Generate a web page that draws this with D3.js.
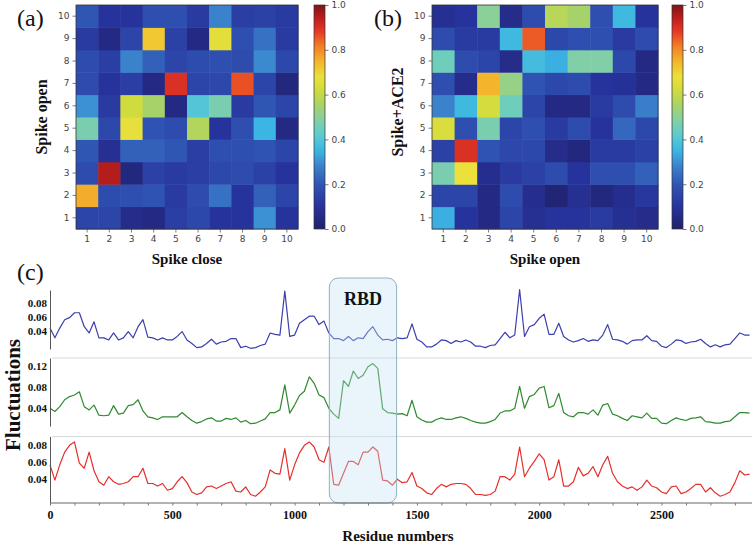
<!DOCTYPE html>
<html><head><meta charset="utf-8">
<script src="https://cdn.jsdelivr.net/npm/d3@7"></script>
<style>body{margin:0;background:#fff}svg{display:block}</style>
</head><body>
<script>
// ---------- DATA ----------
const bins = ["1","2","3","4","5","6","7","8","9","10"];
// heat maps: rows listed for labels 1..10 (bottom to top), columns 1..10
const heatA = [
 [0.15,0.15,0.06,0.05,0.13,0.16,0.10,0.10,0.30,0.10],
 [0.76,0.17,0.18,0.19,0.12,0.17,0.25,0.10,0.22,0.15],
 [0.17,0.95,0.04,0.14,0.12,0.13,0.16,0.17,0.14,0.10],
 [0.20,0.08,0.22,0.22,0.20,0.13,0.18,0.18,0.19,0.15],
 [0.47,0.16,0.67,0.19,0.17,0.57,0.10,0.18,0.35,0.05],
 [0.30,0.12,0.62,0.55,0.05,0.40,0.47,0.12,0.20,0.15],
 [0.17,0.10,0.13,0.05,0.90,0.15,0.16,0.86,0.15,0.04],
 [0.17,0.13,0.28,0.22,0.15,0.17,0.18,0.17,0.29,0.16],
 [0.12,0.05,0.15,0.72,0.14,0.05,0.66,0.18,0.25,0.12],
 [0.20,0.10,0.10,0.18,0.18,0.12,0.28,0.13,0.14,0.12]
];
const heatB = [
 [0.34,0.10,0.05,0.15,0.08,0.10,0.10,0.12,0.08,0.06],
 [0.15,0.15,0.05,0.17,0.07,0.02,0.08,0.04,0.07,0.11],
 [0.47,0.68,0.07,0.12,0.14,0.17,0.10,0.18,0.18,0.22],
 [0.14,0.90,0.19,0.16,0.16,0.06,0.04,0.12,0.12,0.14],
 [0.64,0.18,0.47,0.15,0.18,0.12,0.17,0.10,0.23,0.16],
 [0.28,0.36,0.63,0.45,0.15,0.05,0.05,0.12,0.17,0.27],
 [0.18,0.06,0.75,0.52,0.19,0.16,0.17,0.10,0.09,0.05],
 [0.45,0.17,0.15,0.06,0.37,0.34,0.48,0.48,0.16,0.05],
 [0.17,0.12,0.12,0.36,0.85,0.16,0.18,0.18,0.12,0.17],
 [0.08,0.10,0.50,0.06,0.17,0.58,0.55,0.18,0.36,0.10]
];
const colorbarTicks = [0.0,0.2,0.4,0.6,0.8,1.0];

// fluctuation profiles, one value every 20 residues starting at residue 0
const residueStep = 20;
const fluctBlue = [
 0.044,0.030,0.044,0.056,0.059,0.066,0.066,0.046,0.037,0.053,
 0.030,0.030,0.027,0.037,0.027,0.030,0.039,0.030,0.046,0.056,
 0.031,0.030,0.027,0.030,0.027,0.027,0.032,0.039,0.027,0.022,
 0.016,0.017,0.022,0.028,0.021,0.024,0.025,0.029,0.029,0.016,
 0.018,0.015,0.016,0.019,0.021,0.037,0.035,0.034,0.097,0.032,
 0.034,0.051,0.056,0.061,0.061,0.049,0.054,0.037,0.029,0.029,
 0.026,0.032,0.026,0.030,0.029,0.039,0.046,0.034,0.027,0.028,
 0.026,0.030,0.029,0.030,0.050,0.028,0.024,0.017,0.017,0.021,
 0.027,0.026,0.022,0.026,0.024,0.027,0.024,0.018,0.018,0.016,
 0.019,0.020,0.029,0.038,0.030,0.034,0.099,0.032,0.046,0.049,
 0.058,0.064,0.035,0.035,0.051,0.032,0.027,0.024,0.026,0.029,
 0.025,0.027,0.026,0.034,0.049,0.028,0.027,0.025,0.021,0.026,
 0.027,0.027,0.033,0.026,0.025,0.018,0.016,0.021,0.027,0.026,
 0.022,0.024,0.025,0.028,0.022,0.017,0.020,0.017,0.020,0.021,
 0.029,0.037,0.034,0.034
];
const fluctGreen = [
 0.040,0.034,0.043,0.056,0.062,0.065,0.071,0.043,0.037,0.046,
 0.027,0.026,0.027,0.045,0.029,0.031,0.045,0.047,0.056,0.035,
 0.024,0.022,0.019,0.024,0.024,0.024,0.024,0.032,0.024,0.017,
 0.012,0.015,0.020,0.022,0.016,0.016,0.021,0.019,0.022,0.014,
 0.017,0.011,0.012,0.016,0.020,0.032,0.032,0.037,0.084,0.031,
 0.046,0.064,0.072,0.099,0.087,0.065,0.060,0.040,0.029,0.021,
 0.092,0.081,0.110,0.096,0.102,0.118,0.124,0.115,0.039,0.032,
 0.031,0.029,0.030,0.026,0.055,0.024,0.018,0.014,0.014,0.019,
 0.022,0.019,0.019,0.022,0.024,0.021,0.017,0.014,0.012,0.012,
 0.015,0.019,0.031,0.035,0.035,0.040,0.081,0.040,0.062,0.066,
 0.078,0.081,0.041,0.045,0.068,0.032,0.026,0.024,0.032,0.032,
 0.029,0.037,0.027,0.046,0.049,0.029,0.026,0.021,0.017,0.026,
 0.024,0.022,0.031,0.021,0.021,0.012,0.011,0.017,0.022,0.019,
 0.017,0.021,0.022,0.024,0.015,0.014,0.012,0.012,0.015,0.016,
 0.024,0.032,0.032,0.031
];
const fluctRed = [
 0.057,0.039,0.057,0.072,0.080,0.084,0.059,0.053,0.072,0.050,
 0.037,0.033,0.043,0.037,0.034,0.035,0.037,0.043,0.043,0.053,
 0.035,0.035,0.032,0.035,0.027,0.029,0.037,0.043,0.036,0.025,
 0.022,0.024,0.031,0.032,0.029,0.032,0.035,0.037,0.026,0.025,
 0.031,0.022,0.020,0.025,0.031,0.051,0.047,0.046,0.076,0.039,
 0.057,0.071,0.080,0.084,0.078,0.063,0.060,0.078,0.034,0.033,
 0.047,0.061,0.061,0.057,0.072,0.072,0.078,0.073,0.039,0.038,
 0.033,0.040,0.036,0.037,0.048,0.032,0.029,0.024,0.022,0.029,
 0.034,0.031,0.034,0.035,0.035,0.034,0.029,0.022,0.022,0.021,
 0.022,0.026,0.043,0.043,0.039,0.046,0.078,0.043,0.053,0.061,
 0.070,0.063,0.039,0.043,0.063,0.032,0.032,0.037,0.054,0.044,
 0.047,0.055,0.043,0.057,0.067,0.047,0.037,0.032,0.029,0.031,
 0.027,0.031,0.039,0.032,0.030,0.025,0.023,0.031,0.032,0.023,
 0.025,0.029,0.034,0.034,0.025,0.030,0.024,0.020,0.022,0.025,
 0.036,0.050,0.045,0.046
];
const xTicks = [0,500,1000,1500,2000,2500];
const blueTicks = [0.04,0.06,0.08];
const greenTicks = [0.04,0.08,0.12];
const redTicks = [0.04,0.06,0.08];
const rbdRange = [1142,1417];

// ---------- DRAW ----------
const W=756,H=547;
const svg=d3.select("body").append("svg").attr("width",W).attr("height",H);
svg.append("rect").attr("width",W).attr("height",H).attr("fill","#fff");
const serif="'Liberation Serif','Times New Roman',serif";
const sans="'DejaVu Sans',sans-serif";

// jet-like colormap, muted as in the reference print
const cmap=d3.scaleLinear()
  .domain([0,0.10,0.20,0.28,0.35,0.42,0.48,0.55,0.62,0.68,0.75,0.82,0.88,0.94,1])
  .range(["#21216c","#27339c","#3056b4","#3b82cc","#3bb6e4","#5dcbd0","#80cfa8","#a6d26a",
          "#d0db3e","#ece03a","#f4b42c","#f27b26","#e63a25","#c01e1e","#7e1518"])
  .interpolate(d3.interpolateRgb).clamp(true);

function heatmap(x0,x1,y0,y1,mat,cbX){
  const g=svg.append("g");
  const xs=d3.scaleBand().domain(bins).range([x0,x1]);
  const ys=d3.scaleBand().domain(bins).range([y1,y0]);
  mat.forEach((row,ri)=>row.forEach((v,ci)=>{
    g.append("rect").attr("x",xs(bins[ci])).attr("y",ys(bins[ri]))
     .attr("width",xs.bandwidth()+0.5).attr("height",ys.bandwidth()+0.5).attr("fill",cmap(v));
  }));
  g.append("rect").attr("x",x0).attr("y",y0).attr("width",x1-x0).attr("height",y1-y0)
   .attr("fill","none").attr("stroke","#333").attr("stroke-width",0.8);
  const ax=g.append("g").attr("transform",`translate(0,${y1})`).call(d3.axisBottom(xs).tickSize(3.5).tickPadding(3));
  const ay=g.append("g").attr("transform",`translate(${x0},0)`).call(d3.axisLeft(ys).tickSize(3.5).tickPadding(3));
  [ax,ay].forEach(a=>{a.select(".domain").remove();a.selectAll("line").attr("stroke","#444").attr("stroke-width",0.7);
    a.selectAll("text").attr("font-family",sans).attr("font-size",9).attr("fill","#444");});
  // colorbar
  const cs=d3.scaleLinear().domain([0,1]).range([y1,y0]);
  const id="grad"+cbX;
  const grad=svg.append("defs").append("linearGradient").attr("id",id).attr("x1",0).attr("y1",1).attr("x2",0).attr("y2",0);
  d3.range(0,1.0001,0.02).forEach(t=>grad.append("stop").attr("offset",t).attr("stop-color",cmap(t)));
  g.append("rect").attr("x",cbX).attr("y",y0).attr("width",11).attr("height",y1-y0)
   .attr("fill",`url(#${id})`).attr("stroke","#333").attr("stroke-width",0.7);
  const ac=g.append("g").attr("transform",`translate(${cbX+11},0)`)
    .call(d3.axisRight(cs).tickValues(colorbarTicks).tickFormat(d3.format(".1f")).tickSize(3.5).tickPadding(3));
  ac.select(".domain").remove();
  ac.selectAll("line").attr("stroke","#444").attr("stroke-width",0.7);
  ac.selectAll("text").attr("font-family",sans).attr("font-size",9).attr("fill","#444");
}
heatmap(76,298,5,229,heatA,314);
heatmap(432,658,5,229,heatB,672);

function label(txt,x,y,size,opts={}){
  const t=svg.append("text").attr("x",x).attr("y",y).text(txt)
    .attr("font-family",serif).attr("font-size",size).attr("fill","#111")
    .attr("font-weight",opts.bold?"bold":"normal").attr("text-anchor",opts.anchor||"start");
  if(opts.rot) t.attr("transform",`rotate(-90,${x},${y})`);
  return t;
}
label("(a)",17,26,24);
label("(b)",374,26,24);
label("(c)",17,280,24);
label("Spike open",47,117,16,{bold:true,anchor:"middle",rot:true});
label("Spike+ACE2",403,112,16,{bold:true,anchor:"middle",rot:true});
label("Spike close",187,264,15,{bold:true,anchor:"middle"});
label("Spike open",545,264,15,{bold:true,anchor:"middle"});
label("Fluctuations",20,395,21,{bold:true,anchor:"middle",rot:true});
label("Residue numbers",398,541,15,{bold:true,anchor:"middle"});

// ---------- fluctuation panels ----------
const xMax=2870;
const x=d3.scaleLinear().domain([0,xMax]).range([50,50+xMax*0.2446]);
const panels=[
  {data:fluctBlue,color:"#3b3fae",dom:[0.014,0.0986],rng:[349,290],ticks:blueTicks},
  {data:fluctGreen,color:"#2f8a2f",dom:[0.0067,0.1345],rng:[426,358],ticks:greenTicks},
  {data:fluctRed,color:"#e4302b",dom:[0.012,0.0905],rng:[503,436.4],ticks:redTicks}
];
// separators
[358,436.6].forEach(yy=>svg.append("line").attr("x1",52).attr("x2",752).attr("y1",yy).attr("y2",yy)
  .attr("stroke","#d9d9d9").attr("stroke-width",1));
panels.forEach(p=>{
  const y=d3.scaleLinear().domain(p.dom).range(p.rng);
  svg.append("path").datum(p.data)
    .attr("d",d3.line().x((d,i)=>x(i*residueStep)).y(d=>y(d)))
    .attr("fill","none").attr("stroke",p.color).attr("stroke-width",1.2).attr("stroke-linejoin","round");
  const ay=svg.append("g").attr("transform","translate(50,0)")
    .call(d3.axisLeft(y).tickValues(p.ticks).tickFormat(d3.format(".2f")).tickSize(0).tickPadding(3));
  ay.select(".domain").attr("stroke","#555").attr("stroke-width",1);
  ay.selectAll("text").attr("font-family",serif).attr("font-weight","bold").attr("font-size",11).attr("fill","#111");
});
// RBD box
svg.append("rect").attr("x",x(rbdRange[0])).attr("y",278).attr("width",x(rbdRange[1])-x(rbdRange[0])).attr("height",225)
  .attr("rx",9).attr("fill","#bfe3f0").attr("fill-opacity",0.35).attr("stroke","#8fb2c0").attr("stroke-width",1);
label("RBD",x((rbdRange[0]+rbdRange[1])/2),305,18,{bold:true,anchor:"middle"});
// x axis
const axb=svg.append("g").attr("transform","translate(0,503)")
  .call(d3.axisBottom(x).tickValues(d3.range(0,2801,100)).tickSize(2.5).tickFormat(d=>xTicks.includes(d)?d:""));
axb.select(".domain").attr("stroke","#666").attr("d",`M50,0H752`);
axb.selectAll("line").attr("stroke","#777");
axb.selectAll("text").attr("font-family",serif).attr("font-weight","bold").attr("font-size",12).attr("fill","#111").attr("dy","0.9em");
</script>
</body></html>
